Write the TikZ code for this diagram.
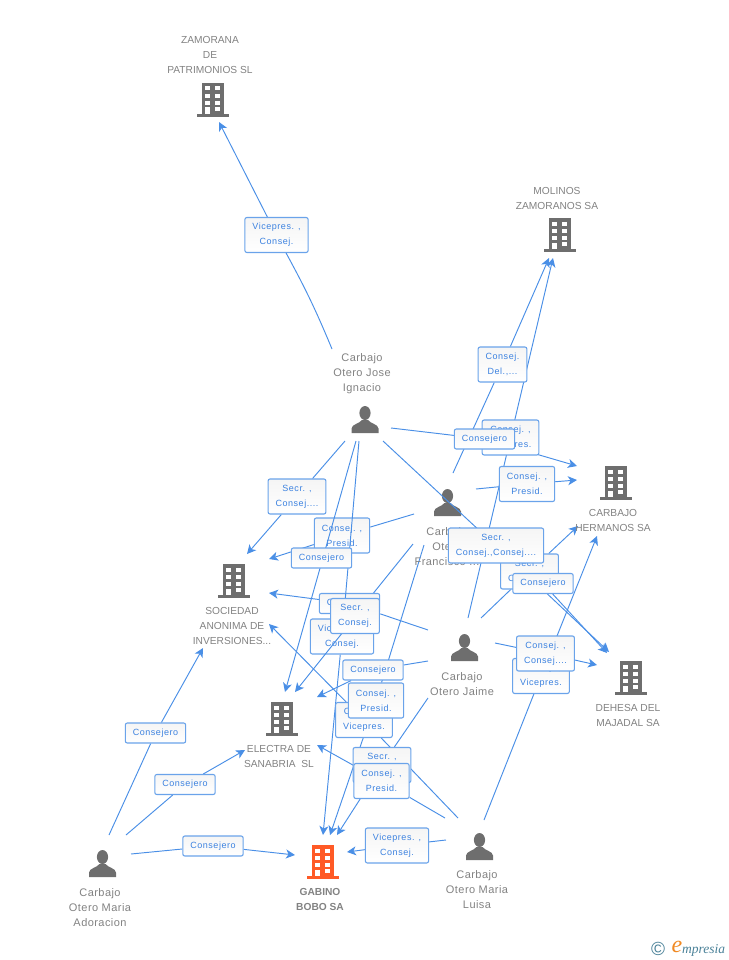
\documentclass[tikz,border=0pt]{standalone}
\usepackage{fontspec}
\setmainfont{Liberation Sans}
\newfontfamily\personfont[LetterSpace=4]{Liberation Sans}
\newfontfamily\lblfont[LetterSpace=6]{Liberation Sans}
\newfontfamily\brandfont{Liberation Serif}
\usetikzlibrary{arrows.meta, backgrounds}
\definecolor{linkblue}{HTML}{4A8FE6}
\definecolor{lbledge}{HTML}{6AA3EA}
\definecolor{lbltext}{HTML}{3C82E0}
\definecolor{icongray}{HTML}{6E6E6E}
\definecolor{namegray}{HTML}{828282}
\definecolor{fireorange}{HTML}{FF5A26}
\definecolor{brandteal}{HTML}{4A8198}
\definecolor{brandorange}{HTML}{F08A24}
\tikzset{>={Stealth[length=9pt,width=9pt,inset=2.5pt]}}
\tikzset{
  link/.style = {draw = linkblue, line width = 0.95},
  linkto/.style = {link, ->},
  lbl/.style = {draw = lbledge, line width = 1.1, rounded corners = 2, top color = black!4, bottom color = white,
    text = lbltext, font = \lblfont\fontsize{9}{15}\selectfont, align = center, inner xsep = 7.5, inner ysep = 0},
  lblone/.style = {lbl, minimum height = 20},
  lbltwo/.style = {lbl, minimum height = 35},
  company/.style = {text = namegray, font = \fontsize{10.2}{15}\selectfont, align = center, inner sep = 0},
  person/.style = {text = namegray, font = \personfont\fontsize{11}{15}\selectfont, align = center, inner sep = 0}
}
\newcommand{\buildingicon}[3]{
  \begin{scope}[shift = {(#1, #2)}]
    \fill[#3] (-11, 0) rectangle (11, 31);
    \fill[#3] (-16, 31) rectangle (16, 34);
    \foreach \wy/\wh in {3.5/4, 10.7/4, 17.7/4}{
      \fill[white] (-7.6, \wy) rectangle ++(5, \wh);
      \fill[white] (2.3, \wy) rectangle ++(5, \wh);
    }
    \fill[white] (-7.6, 24.5) rectangle (-2.6, 31);
    \fill[white] (2.3, 24) rectangle (7.3, 28.3);
  \end{scope}
}
\newcommand{\personicon}[2]{
  \begin{scope}[shift = {(#1, #2)}]
    \fill[icongray] (0, 7) ellipse [x radius = 5.6, y radius = 7];
    \fill[icongray] (-13.5, 27) -- (-13.5, 22.5) .. controls (-13, 18) and (-6, 18) .. (-3, 14) -- (3, 14)
      .. controls (6, 18) and (13, 18) .. (13.5, 22.5) -- (13.5, 27) -- cycle;
  \end{scope}
}

\begin{document}
\begin{tikzpicture}[x=1pt, y=-1pt]
\useasboundingbox (0, 0) rectangle (728, 960);

% free ends
\coordinate (joseA) at (332, 349);
\coordinate (joseB) at (391, 428);
\coordinate (joseC) at (345, 441);
\coordinate (joseD) at (356, 441);
\coordinate (joseE) at (359, 441);
\coordinate (joseF) at (383, 441);
\coordinate (franA) at (414, 514);
\coordinate (franB) at (413, 544);
\coordinate (franC) at (424, 545);
\coordinate (franD) at (453, 473);
\coordinate (franE) at (476, 489);
\coordinate (franF) at (464, 529);
\coordinate (jaimeA) at (468, 618);
\coordinate (jaimeB) at (428, 630);
\coordinate (jaimeC) at (428, 661);
\coordinate (jaimeD) at (428, 698);
\coordinate (jaimeE) at (495, 643);
\coordinate (jaimeF) at (481, 618);
\coordinate (luisaA) at (484, 820);
\coordinate (luisaB) at (446, 840);
\coordinate (luisaC) at (458, 818);
\coordinate (luisaD) at (445, 818);
\coordinate (adoA) at (109, 835);
\coordinate (adoB) at (126, 835);
\coordinate (adoC) at (131, 854);
\coordinate (zamTip) at (219, 122);
\coordinate (molTipA) at (549, 258);
\coordinate (molTipB) at (553, 258);
\coordinate (chTipA) at (577, 466);
\coordinate (chTipB) at (577, 480);
\coordinate (chTipC) at (578, 526);
\coordinate (chTipD) at (597, 536);
\coordinate (socTipA) at (247, 554);
\coordinate (socTipB) at (269, 559);
\coordinate (socTipC) at (269, 593);
\coordinate (socTipD) at (269, 624);
\coordinate (socTipE) at (203, 648);
\coordinate (eleTipA) at (285, 692);
\coordinate (eleTipB) at (295, 692);
\coordinate (eleTipC) at (317, 697);
\coordinate (eleTipD) at (317, 745);
\coordinate (eleTipE) at (245, 750);
\coordinate (dehTipA) at (609, 652);
\coordinate (dehTipB) at (607, 653);
\coordinate (dehTipC) at (597, 665);
\coordinate (gabTipA) at (323, 835);
\coordinate (gabTipB) at (330, 835);
\coordinate (gabTipC) at (337, 835);
\coordinate (gabTipD) at (347, 852);
\coordinate (gabTipE) at (295, 855);
\coordinate (bigMid) at (495, 545);
\coordinate (secrMid) at (355, 617);

% buildings and people
\buildingicon{213}{83}{icongray}
\buildingicon{560}{218}{icongray}
\buildingicon{616}{466}{icongray}
\buildingicon{234}{564}{icongray}
\buildingicon{282}{702}{icongray}
\buildingicon{631}{661}{icongray}
\buildingicon{323}{845}{fireorange}
\personicon{365}{406}
\personicon{447.5}{489}
\personicon{464.5}{634}
\personicon{479.5}{833}
\personicon{102.5}{850}

\node[company] (zamName) at (210, 55) {ZAMORANA\\DE\\PATRIMONIOS SL};
\node[company] (molName) at (557, 198) {MOLINOS\\ZAMORANOS SA};
\node[company] (chName) at (613, 520.5) {CARBAJO\\HERMANOS SA};
\node[company] (socName) at (232, 626) {SOCIEDAD\\ANONIMA DE\\INVERSIONES...};
\node[company] (eleName) at (279, 756.5) {ELECTRA DE\\SANABRIA\ \ SL};
\node[company] (dehName) at (628, 715.5) {DEHESA DEL\\MAJADAL SA};
\node[company, font = \bfseries\fontsize{10.2}{15}\selectfont] (gabName) at (320, 899.5) {GABINO\\BOBO SA};
\node[person] (joseName) at (362, 373.5) {Carbajo\\Otero Jose\\Ignacio};
\node[person] (franName) at (447, 546.5) {Carbajo\\Otero\\Francisco ...};
\node[person] (jaimeName) at (462, 684.5) {Carbajo\\Otero Jaime};
\node[person] (luisaName) at (477, 889.5) {Carbajo\\Otero Maria\\Luisa};
\node[person] (adoName) at (100, 907.5) {Carbajo\\Otero Maria\\Adoracion};

% labels that others cover
\node[lbltwo] (lblVicePres) at (510.5, 437.5) {Consej. ,\\Vicepres.};
\node[lbltwo] (lblPresFran) at (342, 535.5) {Consej. ,\\Presid.};
\node[lblone] (lblConsHid) at (349.5, 603.5) {Consejero};
\node[lbltwo] (lblViceHid) at (342, 636.5) {Vicepres. ,\\Consej.};
\node[lbltwo] (lblConsVice) at (541, 676) {Consej. ,\\Vicepres.};
\node[lbltwo] (lblSecrHid) at (529.5, 571.5) {Secr. ,\\Consej....};
\node[lbltwo] (lblViceLow) at (364, 720) {Consej. ,\\Vicepres.};
\node[lbltwo] (lblSecrLow) at (382, 765) {Secr. ,\\Consej....};

% these run over the lower labels
\draw[link] (joseE) -- (lblViceHid);
\draw[link] (joseF) -- (bigMid);
\draw[linkto] (secrMid) -- (eleTipB);
\draw[linkto] (joseD) -- (eleTipA);

% labels on top
\node[lbltwo] (lblZam) at (276.5, 235) {Vicepres. ,\\Consej.};
\node[lbltwo] (lblDel) at (502.5, 364.5) {Consej.\\Del.,...};
\node[lblone] (lblConsTop) at (484.5, 439) {Consejero};
\node[lbltwo] (lblPresCH) at (527, 484) {Consej. ,\\Presid.};
\node[lbltwo] (lblSecrJose) at (297, 496.5) {Secr. ,\\Consej....};
\node[lbltwo] (lblSecrBig) at (496, 545.5) {Secr. ,\\Consej.,Consej....};
\node[lblone] (lblConsJose) at (321.5, 558) {Consejero};
\node[lblone] (lblConsR) at (543, 583.5) {Consejero};
\node[lbltwo] (lblSecrFran) at (355, 616) {Secr. ,\\Consej.};
\node[lbltwo] (lblConsCons) at (545.5, 653.5) {Consej. ,\\Consej....};
\node[lblone] (lblConsJaime) at (373, 670) {Consejero};
\node[lbltwo] (lblPresFranB) at (376, 700.5) {Consej. ,\\Presid.};
\node[lbltwo] (lblPresLuisa) at (381.5, 781) {Consej. ,\\Presid.};
\node[lbltwo] (lblViceLuisa) at (397, 845.5) {Vicepres. ,\\Consej.};
\node[lblone] (lblAdoA) at (155.5, 733) {Consejero};
\node[lblone] (lblAdoB) at (185, 784.5) {Consejero};
\node[lblone] (lblAdoC) at (213, 846) {Consejero};

\begin{scope}[on background layer]
\draw[link] (joseA) to[bend right = 3] (lblZam.-62);
\draw[linkto] (lblZam) -- (zamTip);
\draw[link] (joseB) -- (lblConsTop);
\draw[linkto] (lblConsTop) -- (chTipA);
\draw[link] (joseC) -- (lblSecrJose);
\draw[linkto] (lblSecrJose) -- (socTipA);
\draw[linkto] (lblViceHid) -- (gabTipA);
\draw[link] (franA) -- (lblPresFran);
\draw[linkto] (lblPresFran) -- (socTipB);
\draw[link] (franB) -- (lblSecrFran);
\draw[link] (franC) -- (lblPresFranB);
\draw[linkto] (lblPresFranB) -- (gabTipB);
\draw[link] (franD) -- (lblDel);
\draw[linkto] (lblDel) -- (molTipA);
\draw[link] (franE) -- (lblPresCH);
\draw[linkto] (lblPresCH) -- (chTipB);
\draw[link] (franF) -- (lblConsR);
\draw[linkto] (lblConsR) -- (dehTipB);
\draw[linkto] (lblSecrBig) -- (dehTipA);
\draw[linkto] (jaimeA) -- (molTipB);
\draw[link] (jaimeB) -- (lblConsHid);
\draw[linkto] (lblConsHid) -- (socTipC);
\draw[link] (jaimeC) -- (lblConsJaime);
\draw[linkto] (lblConsJaime) -- (eleTipC);
\draw[link] (jaimeD) -- (lblSecrLow);
\draw[linkto] (lblSecrLow) -- (gabTipC);
\draw[link] (jaimeE) -- (lblConsCons);
\draw[linkto] (lblConsCons) -- (dehTipC);
\draw[link] (jaimeF) -- (lblSecrHid);
\draw[linkto] (lblSecrHid) -- (chTipC);
\draw[link] (luisaA) -- (lblConsVice);
\draw[linkto] (lblConsVice) -- (chTipD);
\draw[link] (luisaB) -- (lblViceLuisa);
\draw[linkto] (lblViceLuisa) -- (gabTipD);
\draw[link] (luisaC) -- (lblViceLow);
\draw[linkto] (lblViceLow) -- (socTipD);
\draw[link] (luisaD) -- (lblPresLuisa);
\draw[linkto] (lblPresLuisa) -- (eleTipD);
\draw[link] (adoA) -- (lblAdoA);
\draw[linkto] (lblAdoA) -- (socTipE);
\draw[link] (adoB) -- (lblAdoB);
\draw[linkto] (lblAdoB) -- (eleTipE);
\draw[link] (adoC) -- (lblAdoC);
\draw[linkto] (lblAdoC) -- (gabTipE);
\end{scope}

% logo
\node[text = brandteal, font = \fontsize{19}{19}\selectfont, inner sep = 0] (brandSign) at (658, 948.5) {\textcopyright};
\node[text = brandorange, font = \brandfont\itshape\fontsize{24}{24}\selectfont, inner sep = 0] (brandE) at (677, 947) {e};
\node[text = brandteal, font = \brandfont\itshape\fontsize{13.5}{13}\selectfont, inner sep = 0, anchor = base west] (brandRest) at (682, 953) {mpresia};
\end{tikzpicture}
\end{document}
